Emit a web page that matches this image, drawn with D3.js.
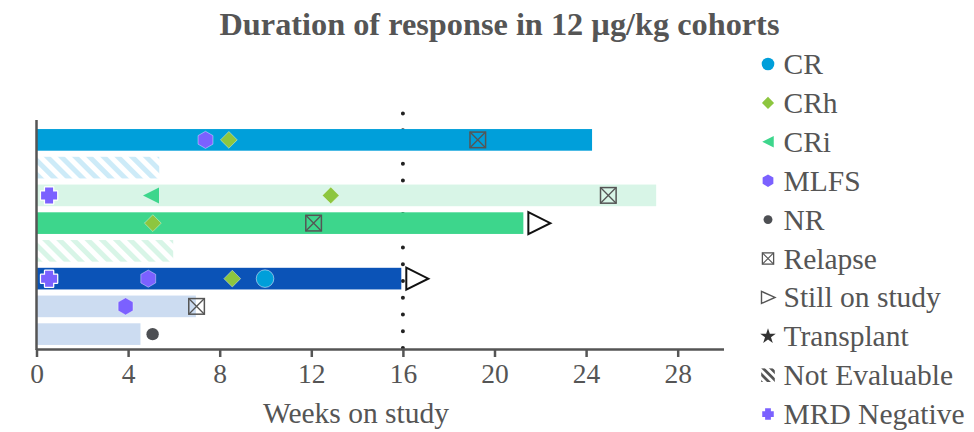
<!DOCTYPE html>
<html>
<head>
<meta charset="utf-8">
<script src="https://cdn.jsdelivr.net/npm/d3@7"></script>
<style>
  html, body { margin: 0; padding: 0; background: #fff; }
  svg { display: block; }
  text { font-family: "Liberation Serif", "Times New Roman", serif; fill: #555; }
</style>
</head>
<body>
<svg id="chart" width="974" height="432"></svg>
<script>
// ---------- DATA ----------
const title = "Duration of response in 12 \u00B5g/kg cohorts";
const xLabel = "Weeks on study";
const xTicks = [0, 4, 8, 12, 16, 20, 24, 28];
const xMax = 30;
const referenceWeek = 16;

const patients = ["P1", "P2", "P3", "P4", "P5", "P6", "P7", "P8"];
const weeksOnStudy = [24.26, 5.36, 27.06, 21.26, 5.97, 15.93, 6.96, 4.54];
const barGroup = ["blue", "blueNE", "mint", "green", "mintNE", "navy", "pale", "pale"];
const stillOnStudy = [false, false, false, true, false, true, false, false];

const eventPatient = ["P1", "P1", "P1", "P3", "P3", "P3", "P3", "P4", "P4", "P6", "P6", "P6", "P6", "P7", "P7", "P8"];
const eventWeek    = [7.38, 8.4, 19.27, 0.55, 5.0, 12.85, 24.97, 5.08, 12.1, 0.55, 4.88, 8.55, 9.98, 3.89, 6.99, 5.07];
const eventType    = ["MLFS", "CRh", "Relapse", "MRD Negative", "CRi", "CRh", "Relapse", "CRh", "Relapse", "MRD Negative", "MLFS", "CRh", "CR", "MLFS", "Relapse", "NR"];

const legendLabels = ["CR", "CRh", "CRi", "MLFS", "NR", "Relapse", "Still on study", "Transplant", "Not Evaluable", "MRD Negative"];

// ---------- STYLES ----------
const barFill = {
  blue: "#009FDA", blueNE: "url(#hatchBlue)", mint: "#D8F5E7", green: "#3DD68C",
  mintNE: "url(#hatchGreen)", navy: "#0B53B7", pale: "#CCDCF1"
};
const markColor = {
  "CR": "#009FDA", "CRh": "#8DC63F", "CRi": "#3DD68C", "MLFS": "#7B61FF",
  "NR": "#4D4F53", "MRD Negative": "#7B61FF"
};
const grey = "#555";
const serif = "'Liberation Serif', 'Times New Roman', serif";

const svg = d3.select("#chart");
const defs = svg.append("defs");
function hatch(id, color, bg, size) {
  const p = defs.append("pattern").attr("id", id).attr("patternUnits", "userSpaceOnUse")
    .attr("width", size).attr("height", size).attr("patternTransform", "rotate(-45)");
  if (bg) p.append("rect").attr("width", size).attr("height", size).attr("fill", bg);
  p.append("rect").attr("x", 0).attr("y", 0).attr("width", size / 2).attr("height", size).attr("fill", color);
}
hatch("hatchBlue", "#CDEBF8", "#fff", 10);
hatch("hatchGreen", "#D8F5E7", "#fff", 10);
hatch("hatchGrey", "#555", "#fff", 5.5);

// ---------- SCALES ----------
const x = d3.scaleLinear().domain([0, xMax]).range([36.5, 723.5]);
const y = d3.scaleBand().domain(patients).range([126, 348]).paddingInner(0.22).paddingOuter(0.11);

// Title
svg.append("text").attr("x", 499.5).attr("y", 34.5).attr("text-anchor", "middle")
  .style("font-family", serif)
  .style("font-size", "32.3px").style("font-weight", "bold").text(title);

// Reference dotted line
svg.append("line").attr("x1", x(referenceWeek)).attr("x2", x(referenceWeek))
  .attr("y1", 348).attr("y2", 112)
  .attr("stroke", "#222").attr("stroke-width", 4).attr("stroke-linecap", "round")
  .attr("stroke-dasharray", "0,16.75");

// Bars
svg.append("g").selectAll("rect").data(patients).join("rect")
  .attr("x", x(0)).attr("y", (d) => y(d))
  .attr("width", (d, i) => x(weeksOnStudy[i]) - x(0))
  .attr("height", y.bandwidth())
  .attr("fill", (d, i) => barFill[barGroup[i]]);

// Symbol paths
function hexPath(r) {
  const pts = d3.range(6).map(k => {
    const a = Math.PI / 3 * k - Math.PI / 2;
    return [r * Math.cos(a), r * Math.sin(a)];
  });
  return "M" + pts.map(p => p.join(",")).join("L") + "Z";
}
function diamondPath(r) { return `M0,${-r}L${r},0L0,${r}L${-r},0Z`; }
function leftTriPath(w, h) { return `M${-w / 2},0L${w / 2},${-h / 2}L${w / 2},${h / 2}Z`; }
function crossPath(a, t) {
  return `M${-t},${-a}H${t}V${-t}H${a}V${t}H${t}V${a}H${-t}V${t}H${-a}V${-t}H${-t}Z`;
}
function drawMark(g, type, s) {
  const big = s === 1;
  switch (type) {
    case "CR":
      g.append("circle").attr("r", 8.8 * s).attr("fill", markColor.CR)
        .attr("stroke", "#fff").attr("stroke-opacity", big ? 0.5 : 0).attr("stroke-width", 1);
      break;
    case "CRh":
      g.append("path").attr("d", diamondPath(8.4 * s)).attr("fill", markColor.CRh)
        .attr("stroke", "#fff").attr("stroke-opacity", big ? 0.4 : 0);
      break;
    case "CRi":
      g.append("path").attr("d", leftTriPath(16 * s, 16 * s)).attr("fill", markColor.CRi);
      break;
    case "MLFS":
      g.append("path").attr("d", hexPath(8.6 * s)).attr("fill", markColor.MLFS)
        .attr("stroke", "#fff").attr("stroke-opacity", big ? 0.4 : 0);
      break;
    case "NR":
      g.append("circle").attr("r", 6.2 * s).attr("fill", markColor.NR);
      break;
    case "Relapse": {
      const h = 7.8 * s;
      g.append("rect").attr("x", -h).attr("y", -h).attr("width", 2 * h).attr("height", 2 * h)
        .attr("fill", "none").attr("stroke", grey).attr("stroke-width", big ? 1.5 : 1.3);
      g.append("path").attr("d", `M${-h},${-h}L${h},${h}M${h},${-h}L${-h},${h}`)
        .attr("stroke", grey).attr("stroke-width", big ? 1.3 : 1.1);
      break;
    }
    case "Still on study":
      if (big) {
        g.append("path").attr("d", "M-11,-11L11,0L-11,11Z")
          .attr("fill", "#fff").attr("stroke", "#111").attr("stroke-width", 2);
      } else {
        g.append("path").attr("d", "M-6.5,-6L7,0L-6.5,6Z")
          .attr("fill", "#fff").attr("stroke", grey).attr("stroke-width", 1.4);
      }
      break;
    case "Transplant":
      g.append("path").attr("d", d3.symbol(d3.symbolStar, 75)()).attr("fill", "#333");
      break;
    case "Not Evaluable":
      g.append("rect").attr("x", -6.8).attr("y", -6.8).attr("width", 13.6).attr("height", 13.6)
        .attr("fill", "url(#hatchGrey)");
      break;
    case "MRD Negative":
      g.append("path").attr("d", crossPath(8 * s, 4 * s)).attr("fill", markColor["MRD Negative"])
        .attr("stroke", "#fff").attr("stroke-width", big ? 2.5 : 0)
        .attr("stroke-linejoin", "round").style("paint-order", "stroke");
      break;
  }
}

// Still-on-study arrows
patients.forEach((p, i) => {
  if (!stillOnStudy[i]) return;
  const g = svg.append("g").attr("transform", `translate(${x(weeksOnStudy[i]) + 16},${y(p) + y.bandwidth() / 2})`);
  drawMark(g, "Still on study", 1);
});

// Event markers
eventType.forEach((t, k) => {
  const g = svg.append("g")
    .attr("transform", `translate(${x(eventWeek[k])},${y(eventPatient[k]) + y.bandwidth() / 2})`);
  drawMark(g, t, 1);
});

// Axes
const xAxis = svg.append("g").attr("transform", "translate(0,349)")
  .call(d3.axisBottom(x).tickValues(xTicks).tickSize(8).tickSizeOuter(0).tickPadding(6));
xAxis.attr("font-family", null);
xAxis.select(".domain").attr("stroke", grey).attr("stroke-width", 2.5);
xAxis.selectAll(".tick line").attr("stroke", grey).attr("stroke-width", 2.5);
xAxis.selectAll(".tick text").style("font-family", serif)
  .style("font-size", "27.5px").attr("fill", grey);

svg.append("line").attr("x1", x(0)).attr("x2", x(0)).attr("y1", 120).attr("y2", 350)
  .attr("stroke", grey).attr("stroke-width", 2.5);

svg.append("text").attr("x", 356).attr("y", 423).attr("text-anchor", "middle")
  .style("font-family", serif)
  .style("font-size", "29.5px").text(xLabel);

// Legend
const legend = svg.append("g");
legendLabels.forEach((lab, i) => {
  const cy = 64 + i * 38.9;
  const g = legend.append("g").attr("transform", `translate(768,${cy})`);
  drawMark(g, lab, 0.72);
  legend.append("text").attr("x", 783.5).attr("y", cy).attr("dy", "0.34em")
    .style("font-family", serif)
    .style("font-size", "29.5px").text(lab);
});
</script>
</body>
</html>
